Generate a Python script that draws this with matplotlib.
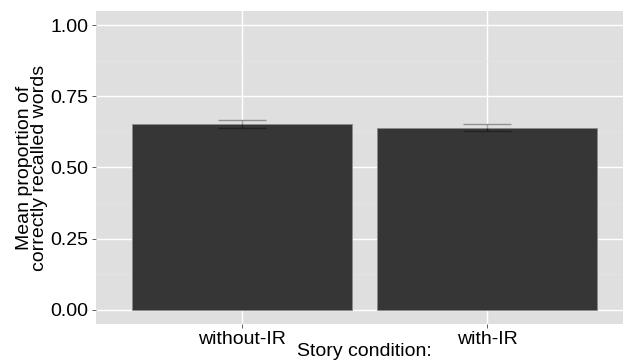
import numpy as np
import matplotlib.pyplot as plt
from matplotlib.ticker import MultipleLocator

# dados
condicoes = ["without-IR", "with-IR"]
medias = [0.652, 0.640]
erros = [0.0135, 0.0125]

plt.rcParams['font.family'] = ['Liberation Sans', 'DejaVu Sans']

fig = plt.figure(figsize=(6.23, 3.64), dpi=100)
ax = fig.add_axes([0.1536, 0.1099, 1.0 - 0.1536, 0.9698 - 0.1099])
ax.set_facecolor("#dfdfdf")

x = np.arange(1, len(condicoes) + 1)
ax.bar(x, medias, width=0.9, color="#363636", edgecolor="#8a8a8a", linewidth=0.6, zorder=3)
ax.errorbar(x, medias, yerr=erros, fmt="none", ecolor=(0, 0, 0, 0.35), elinewidth=1.0,
            capsize=17, capthick=1.0, zorder=4)

ax.set_xlim(0.4, 2.556)
ax.set_ylim(-0.05, 1.05)
ax.set_xticks(x)
ax.set_xticklabels(condicoes)
ax.yaxis.set_minor_locator(MultipleLocator(0.125))
ax.set_yticks([0, 0.25, 0.5, 0.75, 1.0])
ax.set_yticklabels(["0.00", "0.25", "0.50", "0.75", "1.00"])

ax.grid(which="major", color="white", linewidth=1.0, zorder=0)
ax.grid(which="minor", axis="y", color="#e6e6e6", linewidth=0.5, zorder=0)
ax.set_axisbelow(True)
for s in ax.spines.values():
    s.set_visible(False)

ax.tick_params(axis="both", which="major", length=3, width=0.6, color="#444444",
               labelsize=14, labelcolor="black", pad=2)
ax.tick_params(axis="y", which="minor", length=0)

ax.set_xlabel("Story condition:", fontsize=14, va="top")
ax.xaxis.set_label_coords(0.509, -0.062)
ax.set_ylabel("Mean proportion of\ncorrectly recalled words", fontsize=14,
              linespacing=0.85, labelpad=2)

fig.savefig("out.png", dpi=100)
